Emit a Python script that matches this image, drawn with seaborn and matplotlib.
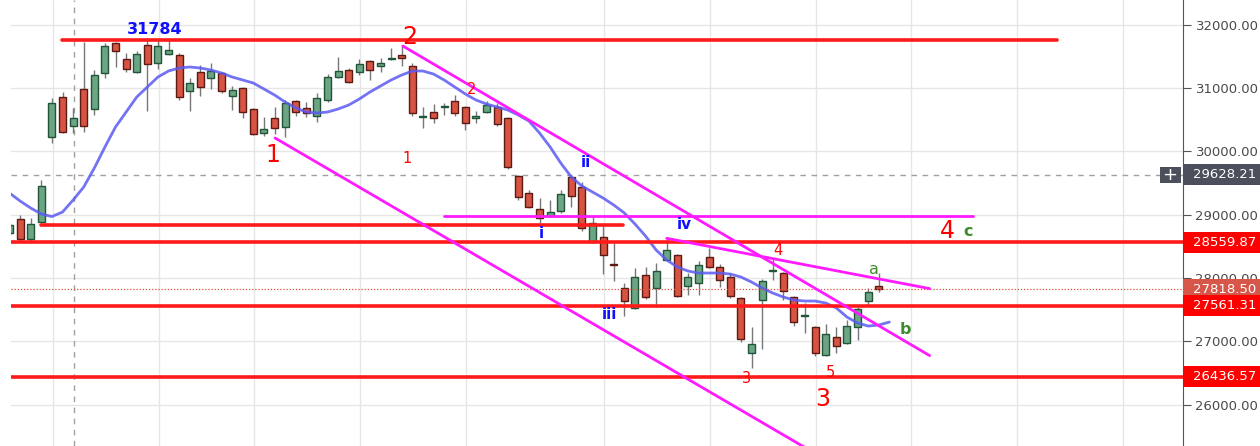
import pandas as pd
import seaborn as sns
import matplotlib.pyplot as plt
from matplotlib.patches import Rectangle
from matplotlib.ticker import FuncFormatter

# OHLC, one entry per daily candle
opens = [28708, 28929, 28613, 28882, 30224, 30855, 30397, 30982, 30666, 31234,
         31708, 31455, 31250, 31676, 31392, 31534, 31518, 30950, 31250, 31155,
         31234, 30871, 30997, 30666, 30287, 30524, 30382, 30792, 30682, 30555,
         30808, 31171, 31282, 31250, 31424, 31345, 31455, 31518, 31345, 30540,
         30618, 30697, 30792, 30697, 30524, 30618, 30697, 30524, 29608, 29339,
         29087, 28976, 29055, 29592, 29434, 28566, 28645, 28218, 27839, 27524,
         28045, 27839, 28282, 28360, 27871, 27918, 28329, 28171, 28013, 27682,
         26813, 27650, 28108, 28076, 27697, 27397, 27224, 26781, 27066, 26971,
         27224, 27634, 27871]
closes = [28834, 28613, 28850, 29450, 30760, 30303, 30524, 30397, 31203, 31661,
          31582, 31297, 31534, 31376, 31661, 31597, 30855, 31076, 31013, 31266,
          30950, 30966, 30618, 30271, 30350, 30366, 30760, 30618, 30603, 30839,
          31171, 31266, 31092, 31376, 31282, 31392, 31471, 31471, 30603, 30555,
          30524, 30713, 30603, 30445, 30555, 30729, 30429, 29750, 29276, 29118,
          28945, 29039, 29324, 29292, 28787, 28866, 28360, 28203, 27634, 28013,
          27697, 28108, 28439, 27713, 28013, 28203, 28171, 27966, 27713, 27034,
          26955, 27950, 28124, 27792, 27303, 27413, 26813, 27113, 26924, 27239,
          27508, 27776, 27818.5]
highs = [28870, 28992, 28945, 29545, 30839, 30934, 30682, 31724, 31282, 31708,
         31720, 31550, 31582, 31784, 31755, 31755, 31550, 31155, 31361, 31392,
         31250, 31029, 31013, 30682, 30540, 30697, 30808, 30808, 30776, 30918,
         31218, 31487, 31313, 31455, 31440, 31471, 31629, 31661, 31392, 30697,
         30745, 30760, 30887, 30710, 30634, 30792, 30760, 30540, 29624, 29387,
         29260, 29229, 29387, 29608, 29513, 28976, 28818, 28550, 27918, 28155,
         28171, 28234, 28629, 28375, 28076, 28266, 28471, 28218, 28076, 27695,
         27224, 27982, 28297, 28090, 27710, 27603, 27239, 27271, 27224, 27334,
         27571, 27839, 28076]
lows = [28680, 28566, 28550, 28870, 30129, 30287, 30287, 30303, 30571, 31155,
        31329, 31250, 31234, 30634, 31297, 31520, 30808, 30634, 30871, 30982,
        30918, 30650, 30524, 30260, 30239, 30271, 30224, 30555, 30540, 30461,
        30776, 31160, 31076, 31203, 31124, 31250, 31440, 31345, 30555, 30366,
        30445, 30571, 30555, 30334, 30445, 30603, 30397, 29718, 29229, 29103,
        28866, 28960, 29024, 29118, 28739, 28555, 28060, 27950, 27397, 27510,
        27666, 27539, 28270, 27697, 27729, 27729, 28160, 27855, 27682, 26987,
        26576, 26876, 27966, 27650, 27239, 27129, 26766, 26770, 26813, 26960,
        27018, 27555, 27776]

# blue moving average as drawn
ma_values = [29339, 29213, 29102, 29008, 28968, 29039, 29229, 29434, 29734, 30066,
             30382, 30618, 30855, 31013, 31171, 31266, 31313, 31329, 31313, 31282,
             31234, 31171, 31124, 31076, 30982, 30887, 30776, 30682, 30618, 30603,
             30618, 30666, 30729, 30824, 30934, 31029, 31124, 31203, 31266, 31266,
             31218, 31124, 31013, 30903, 30808, 30745, 30697, 30650, 30571, 30476,
             30287, 30066, 29813, 29592, 29450, 29355, 29260, 29150, 29024, 28850,
             28660, 28439, 28282, 28171, 28108, 28076, 28076, 28076, 28060, 28013,
             27934, 27839, 27760, 27697, 27650, 27634, 27634, 27602, 27524, 27381,
             27287, 27239, 27255, 27302]

# horizontal levels: (value, start index, end index)
red_levels = [(31750, 4.95, 98.8), (28834, 2.97, 57.9)]
full_levels = [28559.87, 27561.31, 26436.57]
last_price = 27818.50
cross_price = 29628.21
cross_index = 6.1

# magenta trend lines: (x0, y0, x1, y1) in candle index / price
trend_lines = [(37.1, 31661, 86.8, 26772),
               (25.05, 30208, 75.05, 25320),
               (41.0, 28981, 90.9, 28981),
               (62.0, 28624, 86.8, 27830)]

# wave labels: text, index, price, colour, size, weight
wave_labels = [("31784", 13.7, 31929, "#1010ff", 11.5, "bold"),
               ("1", 24.8, 29932, "#ff0000", 17, "normal"),
               ("2", 37.8, 31803, "#ff0000", 17, "normal"),
               ("2", 43.6, 30966, "#ff0000", 10.5, "normal"),
               ("1", 37.5, 29892, "#ff0000", 10.5, "normal"),
               ("ii", 54.4, 29821, "#1010ff", 11, "bold"),
               ("i", 50.2, 28700, "#1010ff", 11, "bold"),
               ("iii", 56.6, 27429, "#1010ff", 11, "bold"),
               ("iv", 63.7, 28850, "#1010ff", 11, "bold"),
               ("4", 72.5, 28431, "#ff0000", 10.5, "normal"),
               ("3", 69.5, 26418, "#ff0000", 10.5, "normal"),
               ("5", 77.4, 26513, "#ff0000", 10.5, "normal"),
               ("3", 76.7, 26094, "#ff0000", 17, "normal"),
               ("a", 81.5, 28131, "#3f8a2c", 11.5, "normal"),
               ("b", 84.5, 27192, "#3f8a2c", 11.5, "bold"),
               ("4", 88.5, 28740, "#ff0000", 17, "normal"),
               ("c", 90.4, 28730, "#3f8a2c", 11.5, "bold")]

date_grid = [4.1, 14.1, 23.1, 33.1, 43.1, 56.1, 66.1, 76.1, 85, 95, 105]

df = pd.DataFrame({"open": opens, "high": highs, "low": lows, "close": closes})
df["idx"] = range(len(df))
df["up"] = df["close"] >= df["open"]
ma = pd.DataFrame({"idx": range(len(ma_values)), "ma": ma_values})

sns.set_style("white")
fig = plt.figure(figsize=(12.6, 4.46), dpi=100)
ax = fig.add_axes([11 / 1260, 0, 1172 / 1260, 1])

# grid
for g in date_grid:
    ax.axvline(g, color="#e6e6e6", lw=1, zorder=0)
for v in range(26000, 32001, 1000):
    ax.axhline(v, color="#e6e6e6", lw=1, zorder=0)
ax.axhline(cross_price, color="#a0a0a0", lw=1, ls=(0, (4, 4)), zorder=1)
ax.axvline(cross_index, color="#a0a0a0", lw=1, ls=(0, (4, 4)), zorder=1)

# candles
ax.vlines(df["idx"], df["low"], df["high"], color="#777777", lw=1, zorder=3)
body = (df["close"] - df["open"]).abs().clip(lower=18)
bottom = df[["open", "close"]].min(axis=1)
fill = df["up"].map({True: "#6ba583", False: "#d75442"})
edge = df["up"].map({True: "#225437", False: "#5b1a13"})
ax.bar(df["idx"], body, bottom=bottom, width=0.66, color=fill,
       edgecolor=edge, linewidth=1, zorder=4)

sns.lineplot(data=ma, x="idx", y="ma", ax=ax, color="#5a5af2", lw=2,
             alpha=0.85, zorder=5)

# levels
for v, x0, x1 in red_levels:
    ax.plot([x0, x1], [v, v], color="#ff1a1a", lw=2.6, zorder=6)
for v in full_levels:
    ax.axhline(v, color="#ff1a1a", lw=2.6, zorder=6)
ax.axhline(last_price, color="#e0503c", lw=0.9, ls=(0, (1, 1.5)), zorder=6)
for x0, y0, x1, y1 in trend_lines:
    ax.plot([x0, x1], [y0, y1], color="#ff1aff", lw=2, zorder=6)

for txt, x, y, c, s, w in wave_labels:
    ax.text(x, y, txt, color=c, fontsize=s, fontweight=w,
            ha="center", va="center", zorder=7)

ax.set_xlim(0.14, 110.7)
ax.set_ylim(25345, 32387)
ax.set_xlabel("")
ax.set_ylabel("")
ax.set_xticks([])
ax.yaxis.tick_right()
ax.set_yticks(range(26000, 32001, 1000))
ax.yaxis.set_major_formatter(FuncFormatter(lambda v, p: f"{v:.2f}"))
ax.tick_params(axis="y", colors="#555555", labelcolor="#4a4a4a",
               labelsize=9.5, length=6, pad=3)
for s in ["top", "left", "bottom"]:
    ax.spines[s].set_visible(False)
ax.spines["right"].set_color("#555555")

# price tags on the axis
trans = ax.get_yaxis_transform()
tags = [(cross_price, "#4b505c"), (full_levels[0], "#ff0000"),
        (last_price, "#d6574a"), (full_levels[1], "#ff0000"),
        (full_levels[2], "#ff0000")]
half = 10.5 * 15.79
for v, c in tags:
    ax.add_patch(Rectangle((1.0, v - half), 0.07, 2 * half, transform=trans,
                           facecolor=c, edgecolor="none", clip_on=False,
                           zorder=8))
    ax.text(1.0085, v, f"{v:.2f}", transform=trans, color="white",
            fontsize=9.5, va="center", ha="left", zorder=9, clip_on=False)
ax.add_patch(Rectangle((0.980, cross_price - 8 * 15.79), 0.018, 16 * 15.79,
                       transform=trans, facecolor="#4b505c", edgecolor="none",
                       clip_on=False, zorder=8))
ax.text(0.989, cross_price, "+", transform=trans, color="white", fontsize=13,
        ha="center", va="center", zorder=9)

fig.savefig("out.png", dpi=100)
